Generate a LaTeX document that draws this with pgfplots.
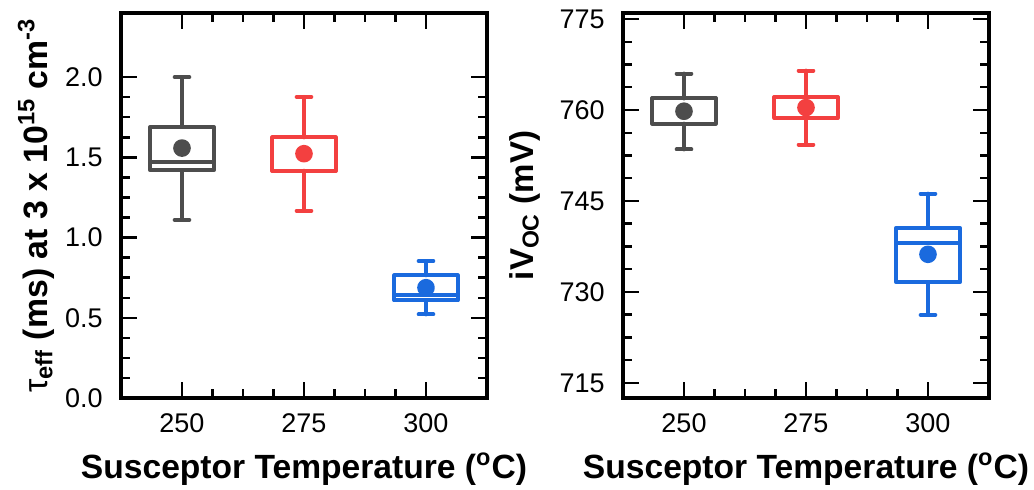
\documentclass[border=0pt]{standalone}
\usepackage{fontspec}
\setmainfont{Liberation Sans}
\usepackage{pgfplots}
\pgfplotsset{compat=1.18}
\usepgfplotslibrary{statistics}
\definecolor{cgray}{RGB}{77,77,77}
\definecolor{cred}{RGB}{243,64,64}
\definecolor{cblue}{RGB}{26,106,222}
\pgfplotsset{
  myax/.style={
    scale only axis, width=183pt, height=192.5pt,
    xmin=237.5, xmax=312.5,
    xtick={250,275,300}, minor x tick num=3,
    tick align=inside, major tick length=8pt, minor tick length=4.5pt,
    axis line style={line width=1.6pt},
    every tick/.style={black, line width=1.2pt},
    ticklabel style={font=\fontsize{13.5}{15}\selectfont},
    yticklabel style={anchor=east, inner sep=0pt, xshift=-9pt},
    xticklabel style={anchor=north, inner sep=0pt, yshift=-7.5pt},
    /pgf/number format/assume math mode=true,
    xlabel style={font=\bfseries\fontsize{16.8}{19}\selectfont, at={(axis description cs:0.5,0)}, anchor=base, yshift=-40pt},
    xlabel={Susceptor Temperature (\textsuperscript{o}C)},
    boxplot/draw direction=y,
    boxplot/box extend=13,
    boxplot/whisker extend=3,
    boxplot/every average/.style={/tikz/mark=*},
    clip=false,
  },
  bx/.style={line width=2pt, line cap=round, line join=round, color=#1, fill=none,
    mark size=3.4pt, mark options={solid, fill=#1, draw=#1, line width=0.4pt}},
}
\begin{document}
\begin{tikzpicture}
\useasboundingbox (0,0) rectangle (517pt,244.5pt);
\begin{axis}[myax, at={(60.5pt,45.5pt)}, anchor=south west,
  ymin=0, ymax=2.4, ytick={0,0.5,1.0,1.5,2.0}, minor y tick num=3,
  yticklabel style={/pgf/number format/.cd, fixed, fixed zerofill, precision=1},
  ylabel style={font=\bfseries\fontsize{16.9}{20}\selectfont, at={(axis description cs:0,0.5)}, anchor=center, yshift=42.5pt},
  ylabel={{\mdseries τ}\textsubscript{eff} (ms) at 3 x 10\textsuperscript{15} cm\textsuperscript{-3}},
]
\addplot[bx=cgray, boxplot prepared={draw position=250, lower whisker=1.11, lower quartile=1.42, median=1.473, upper quartile=1.69, upper whisker=2.0, average=1.558}] coordinates {};
\addplot[bx=cred, boxplot prepared={draw position=275, lower whisker=1.167, lower quartile=1.417, median=1.417, upper quartile=1.625, upper whisker=1.877, average=1.523}] coordinates {};
\addplot[bx=cblue, boxplot prepared={draw position=300, lower whisker=0.521, lower quartile=0.608, median=0.64, upper quartile=0.765, upper whisker=0.854, average=0.6875}] coordinates {};
\end{axis}
\begin{axis}[myax, at={(311.5pt,45.5pt)}, anchor=south west,
  ymin=712.5, ymax=776, ytick={715,730,745,760,775}, minor y tick num=3,
  ylabel style={font=\bfseries\fontsize{16.5}{19}\selectfont, at={(axis description cs:0,0.5)}, anchor=center, yshift=49pt},
  ylabel={iV\textsubscript{OC} (mV)},
]
\addplot[bx=cgray, boxplot prepared={draw position=250, lower whisker=753.5, lower quartile=757.75, median=761.9, upper quartile=761.9, upper whisker=766.0, average=759.8}] coordinates {};
\addplot[bx=cred, boxplot prepared={draw position=275, lower whisker=754.3, lower quartile=758.7, median=762.1, upper quartile=762.1, upper whisker=766.5, average=760.4}] coordinates {};
\addplot[bx=cblue, boxplot prepared={draw position=300, lower whisker=726.2, lower quartile=731.6, median=738.1, upper quartile=740.6, upper whisker=746.2, average=736.2}] coordinates {};
\end{axis}
\end{tikzpicture}
\end{document}
